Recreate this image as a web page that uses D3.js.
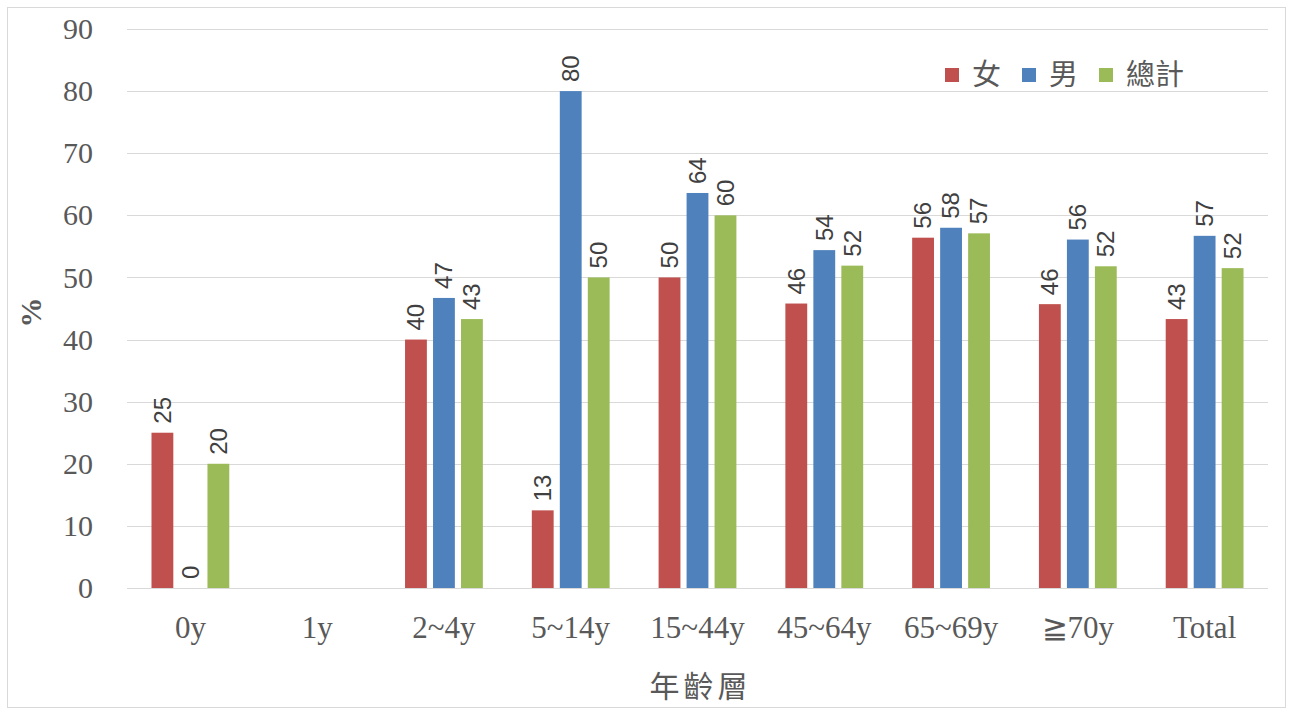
<!DOCTYPE html>
<html>
<head>
<meta charset="utf-8">
<script src="https://cdn.jsdelivr.net/npm/d3@7"></script>
<style>
  html, body { margin: 0; padding: 0; background: #fff; }
  svg { display: block; }
</style>
</head>
<body>
<svg id="chart" width="1293" height="715"></svg>
<script>
// Age groups on the x axis
const categories = ["0y", "1y", "2~4y", "5~14y", "15~44y", "45~64y", "65~69y", "≧70y", "Total"];
// Series names (legend)
const seriesNames = ["女", "男", "總計"];
// Percentages per series (null = no data for that age group)
const female = [25, null, 40, 12.5, 50, 45.8, 56.4, 45.7, 43.3];
const male   = [0, null, 46.7, 80, 63.6, 54.4, 58, 56.1, 56.7];
const total  = [20, null, 43.3, 50, 60, 51.9, 57.1, 51.8, 51.5];
// Y-axis ticks
const yTicks = [0, 10, 20, 30, 40, 50, 60, 70, 80, 90];
const colors = ["#C0504D", "#4F81BD", "#9BBB59"];

const seriesValues = [female, male, total];
const rows = categories.map((c, i) => ({
  cat: c,
  vals: seriesNames.map((s, j) => ({ series: s, idx: j, value: seriesValues[j][i] }))
}));

const svg = d3.select("#chart");
const W = 1293, H = 715;
const plot = { left: 127, right: 1268, top: 29, bottom: 588 };

// Chart frame
svg.append("rect")
  .attr("x", 7.5).attr("y", 7.5)
  .attr("width", W - 15).attr("height", H - 15)
  .attr("fill", "#fff").attr("stroke", "#d9d9d9");

const x0 = d3.scaleBand().domain(categories).range([plot.left, plot.right]).padding(0);
const x1 = d3.scaleBand().domain(seriesNames).range([0, x0.bandwidth()])
  .paddingInner(0.22).paddingOuter(0.875);
const y = d3.scaleLinear().domain([0, 90]).range([plot.bottom, plot.top]);

// Gridlines
svg.append("g")
  .selectAll("line")
  .data(yTicks)
  .join("line")
  .attr("x1", plot.left).attr("x2", plot.right)
  .attr("y1", d => Math.round(y(d)) + 0.5).attr("y2", d => Math.round(y(d)) + 0.5)
  .attr("stroke", "#d9d9d9").attr("stroke-width", 1);

// Y axis labels
const yAxis = d3.axisLeft(y).tickValues(yTicks).tickSize(0).tickPadding(0);
const gy = svg.append("g").attr("transform", `translate(${plot.left - 34},0)`).call(yAxis);
gy.select(".domain").remove();
gy.selectAll("text")
  .attr("font-family", "'Liberation Serif', 'Times New Roman', serif")
  .attr("font-size", 30).attr("fill", "#595959");

// X axis labels
const xAxis = d3.axisBottom(x0).tickSize(0).tickPadding(0);
const gx = svg.append("g").attr("transform", `translate(0,${plot.bottom + 28})`).call(xAxis);
gx.select(".domain").remove();
gx.selectAll("text")
  .attr("font-family", "'Liberation Serif', 'Times New Roman', serif")
  .attr("font-size", 31).attr("fill", "#595959");

// Bars
const groups = svg.append("g")
  .selectAll("g")
  .data(rows)
  .join("g")
  .attr("transform", d => `translate(${x0(d.cat)},0)`);

groups.selectAll("rect")
  .data(d => d.vals.filter(v => v.value !== null))
  .join("rect")
  .attr("x", d => x1(d.series))
  .attr("width", x1.bandwidth())
  .attr("y", d => y(d.value))
  .attr("height", d => y(0) - y(d.value))
  .attr("fill", d => colors[d.idx]);

// Value labels, rotated
groups.selectAll("text.val")
  .data(d => d.vals.filter(v => v.value !== null))
  .join("text")
  .attr("class", "val")
  .attr("transform", d => `translate(${x1(d.series) + x1.bandwidth() / 2},${y(d.value) - 9}) rotate(-90)`)
  .attr("dy", "0.35em")
  .attr("text-anchor", "start")
  .attr("font-family", "'Liberation Sans', Arial, sans-serif")
  .attr("font-size", 24).attr("fill", "#404040")
  .text(d => String(Math.round(d.value)));

// Baseline
svg.append("line")
  .attr("x1", plot.left).attr("x2", plot.right)
  .attr("y1", Math.round(y(0)) + 0.5).attr("y2", Math.round(y(0)) + 0.5)
  .attr("stroke", "#d9d9d9");

// Axis titles
svg.append("text")
  .attr("transform", `translate(41,${(plot.top + plot.bottom) / 2 + 4}) rotate(-90)`)
  .attr("text-anchor", "middle")
  .attr("font-family", "'Liberation Serif', 'Times New Roman', serif")
  .attr("font-weight", "bold")
  .attr("font-size", 30).attr("fill", "#595959")
  .text("%");

svg.append("text")
  .attr("x", (plot.left + plot.right) / 2 + 3).attr("y", 697)
  .attr("text-anchor", "middle")
  .attr("font-family", "'Noto Sans CJK TC', sans-serif")
  .attr("font-size", 30).attr("letter-spacing", 4).attr("fill", "#595959")
  .text("年齡層");

// Legend
const legendX = [945, 1022, 1099];
const legend = svg.append("g")
  .selectAll("g")
  .data(seriesNames)
  .join("g")
  .attr("transform", (d, i) => `translate(${legendX[i]},68)`);
legend.append("rect")
  .attr("width", 14).attr("height", 14)
  .attr("fill", (d, i) => colors[i]);
legend.append("text")
  .attr("x", 27).attr("y", 7).attr("dy", "0.36em")
  .attr("font-family", "'Noto Sans CJK TC', sans-serif")
  .attr("font-size", 29).attr("fill", "#595959")
  .text(d => d);
</script>
</body>
</html>
